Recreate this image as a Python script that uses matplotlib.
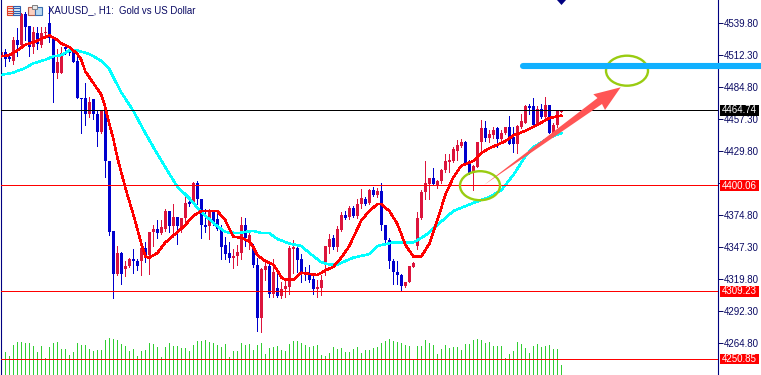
import matplotlib
matplotlib.use('Agg')
import matplotlib.pyplot as plt
from matplotlib.patches import Ellipse, Polygon, Rectangle

# candles, one entry per hourly bar
highs = [4517, 4517, 4511, 4528, 4535, 4548, 4549, 4537, 4536, 4536, 4536, 4536, 4553, 4527, 4517, 4519, 4520, 4519, 4517, 4515,
         4475, 4488, 4476, 4474, 4465, 4465, 4466, 4421, 4361, 4348, 4343, 4335, 4338, 4345, 4337, 4349, 4351, 4360, 4366, 4370,
         4370, 4380, 4378, 4384, 4373, 4372, 4392, 4390, 4403, 4404, 4388, 4380, 4380, 4378, 4376, 4366, 4356, 4351, 4345, 4349,
         4373, 4372, 4360, 4350, 4338, 4329, 4337, 4335, 4337, 4325, 4317, 4319, 4348, 4353, 4349, 4341, 4330, 4332, 4325, 4319,
         4323, 4348, 4358, 4357, 4365, 4377, 4378, 4382, 4382, 4388, 4397, 4390, 4397, 4399, 4398, 4402, 4366, 4355, 4337, 4335,
         4324, 4317, 4331, 4334, 4377, 4396, 4421, 4406, 4415, 4405, 4414, 4427, 4427, 4433, 4439, 4440, 4438, 4422, 4418, 4437,
         4456, 4455, 4448, 4450, 4450, 4448, 4450, 4460, 4450, 4452, 4461, 4469, 4470, 4475, 4468, 4470, 4476, 4469, 4454, 4464, 4465]
body_tops = [4515, 4515, 4510, 4525, 4525, 4547, 4547, 4537, 4532, 4531, 4531, 4532, 4540, 4527, 4506, 4514, 4519, 4517, 4517, 4507,
             4475, 4475, 4472, 4474, 4461, 4464, 4465, 4421, 4361, 4342, 4342, 4331, 4337, 4337, 4335, 4346, 4346, 4360, 4363, 4363,
             4364, 4378, 4378, 4373, 4373, 4372, 4385, 4386, 4402, 4402, 4388, 4366, 4377, 4377, 4371, 4363, 4349, 4342, 4339, 4343,
             4366, 4366, 4357, 4348, 4332, 4328, 4331, 4331, 4326, 4312, 4311, 4314, 4346, 4347, 4346, 4337, 4325, 4323, 4320, 4313,
             4319, 4348, 4354, 4355, 4363, 4375, 4375, 4381, 4381, 4384, 4389, 4388, 4396, 4396, 4395, 4395, 4366, 4353, 4335, 4326,
             4323, 4317, 4331, 4333, 4372, 4394, 4402, 4406, 4406, 4404, 4413, 4421, 4422, 4431, 4435, 4437, 4437, 4419, 4417, 4437,
             4449, 4449, 4444, 4448, 4449, 4445, 4450, 4450, 4442, 4451, 4455, 4468, 4468, 4468, 4466, 4466, 4469, 4469, 4452, 4464, 4465]
body_bots = [4511, 4509, 4509, 4507, 4521, 4521, 4536, 4519, 4519, 4522, 4521, 4531, 4527, 4497, 4497, 4497, 4517, 4514, 4506, 4475,
             4474, 4461, 4461, 4461, 4446, 4446, 4421, 4360, 4324, 4324, 4324, 4328, 4331, 4335, 4331, 4335, 4340, 4340, 4360, 4359,
             4359, 4363, 4365, 4365, 4365, 4362, 4372, 4384, 4384, 4388, 4366, 4364, 4365, 4369, 4363, 4347, 4341, 4338, 4338, 4339,
             4342, 4355, 4352, 4332, 4286, 4286, 4327, 4307, 4307, 4305, 4305, 4311, 4313, 4345, 4336, 4325, 4323, 4319, 4311, 4311,
             4312, 4332, 4347, 4347, 4347, 4362, 4372, 4373, 4374, 4374, 4384, 4384, 4385, 4392, 4392, 4366, 4353, 4335, 4326, 4323,
             4314, 4314, 4317, 4330, 4348, 4372, 4394, 4401, 4401, 4400, 4404, 4413, 4420, 4421, 4430, 4434, 4419, 4411, 4411, 4416,
             4437, 4441, 4441, 4443, 4440, 4440, 4445, 4436, 4436, 4436, 4450, 4454, 4467, 4452, 4452, 4459, 4459, 4445, 4445, 4452, 4463]
lows = [4510, 4503, 4507, 4504, 4511, 4520, 4525, 4511, 4514, 4517, 4519, 4527, 4523, 4472, 4492, 4497, 4513, 4512, 4506, 4475,
        4445, 4452, 4459, 4457, 4434, 4445, 4407, 4357, 4303, 4323, 4315, 4322, 4330, 4325, 4327, 4323, 4334, 4324, 4348, 4355,
        4358, 4361, 4360, 4356, 4350, 4360, 4366, 4382, 4384, 4384, 4355, 4360, 4354, 4366, 4362, 4337, 4337, 4334, 4329, 4332,
        4337, 4348, 4345, 4330, 4275, 4274, 4319, 4304, 4304, 4304, 4303, 4304, 4307, 4325, 4326, 4317, 4319, 4317, 4307, 4304,
        4306, 4323, 4342, 4345, 4344, 4361, 4371, 4371, 4373, 4372, 4381, 4383, 4384, 4391, 4390, 4362, 4349, 4329, 4315, 4315,
        4310, 4313, 4317, 4330, 4345, 4371, 4388, 4388, 4400, 4398, 4402, 4412, 4412, 4420, 4422, 4433, 4418, 4410, 4396, 4416,
        4428, 4438, 4437, 4441, 4433, 4438, 4444, 4436, 4429, 4428, 4449, 4454, 4461, 4451, 4452, 4458, 4457, 4445, 4444, 4450, 4463]
# r = bull bar, b = bear bar
directions = ('rbbrbrbbrbrrbbrrbbbbbbrbbrbbbr'
              'brrbbrbrrbrrbrbrrbrbbbrbbbbbrr'
              'rbrbbrrbrbrrrrbbbbbrrrrbrrbrbr'
              'rbrbrbbbbbbrrrrrrrbrrrrrrrbbrr'
              'rbrrbrrbbrrrbbrbrbrrr')
volumes = [20, 23, 19, 30, 33, 33, 32, 32, 29, 23, 29, 17, 28, 32, 33, 26, 26, 20, 23, 32,
           30, 30, 26, 24, 25, 25, 35, 37, 36, 35, 31, 29, 24, 26, 19, 24, 25, 32, 31, 28,
           18, 28, 32, 29, 29, 27, 27, 24, 30, 34, 34, 35, 33, 32, 30, 28, 31, 18, 24, 24,
           32, 30, 31, 25, 30, 32, 21, 27, 28, 29, 25, 24, 31, 34, 34, 32, 30, 28, 29, 30,
           20, 19, 22, 28, 26, 27, 23, 23, 26, 28, 22, 25, 25, 27, 28, 32, 34, 36, 34, 33,
           32, 30, 29, 16, 29, 29, 35, 32, 30, 21, 26, 30, 27, 28, 28, 25, 31, 31, 35, 36,
           35, 32, 33, 29, 29, 29, 17, 21, 24, 33, 31, 27, 22, 29, 31, 28, 29, 30, 26, 26, 10]

fast_bars = [0, 2, 4, 6, 8, 10, 12, 14, 15, 17, 19, 20, 21, 23, 25, 26, 27, 28, 29, 30, 31, 33, 35, 36, 37, 39, 41, 44, 46, 48,
             50, 54, 56, 58, 60, 62, 63, 64, 66, 68, 69, 70, 71, 73, 75, 77, 79, 80, 81, 83, 85, 87, 90, 92, 94, 95, 97, 99, 101, 103,
             105, 107, 109, 111, 113, 115, 118, 120, 122, 124, 126, 128, 131, 134, 137, 140]
fast_ma = [4511, 4512, 4516, 4521, 4523, 4526, 4529, 4525, 4522, 4519, 4513, 4508, 4498, 4488, 4478, 4467, 4453, 4440, 4424, 4411, 4398, 4375, 4350, 4339, 4338, 4342, 4351, 4360, 4366, 4374,
           4378, 4378, 4370, 4356, 4355, 4352, 4347, 4340, 4335, 4332, 4327, 4321, 4319, 4319, 4325, 4324, 4323, 4325, 4327, 4330, 4338, 4348, 4370, 4378, 4384, 4384, 4378, 4367, 4349, 4339,
           4339, 4350, 4370, 4392, 4407, 4417, 4421, 4428, 4432, 4435, 4438, 4443, 4447, 4452, 4458, 4460]
slow_bars = [0, 3, 6, 8, 11, 13, 15, 17, 19, 22, 25, 27, 28, 30, 33, 36, 39, 42, 44, 47, 50, 54, 56, 59, 61, 63, 65, 67, 69, 72,
             75, 77, 80, 82, 84, 88, 92, 94, 98, 103, 106, 109, 113, 118, 122, 125, 128, 131, 133, 137, 140]
slow_ma = [4495, 4497, 4501, 4505, 4508, 4511, 4512, 4516, 4516, 4513, 4507, 4500, 4493, 4480, 4464, 4445, 4427, 4410, 4399, 4389, 4377, 4365, 4360, 4359, 4360, 4361, 4359, 4359, 4354, 4350,
           4348, 4342, 4334, 4332, 4332, 4338, 4341, 4348, 4351, 4351, 4357, 4366, 4378, 4385, 4390, 4396, 4409, 4425, 4433, 4441, 4445]

price_ticks = [4539.8, 4512.3, 4484.8, 4457.3, 4429.8, 4402.3, 4374.8, 4347.3, 4319.8, 4292.3, 4264.8]
level_prices = [4464.74, 4400.06, 4309.23, 4250.85]
level_colors = ['black', 'red', 'red', 'red']
title_text = 'XAUUSD_, H1:  Gold vs US Dollar'

NAVY = '#0a0a64'
plt.rcParams['font.family'] = ['Liberation Sans', 'DejaVu Sans']

fig = plt.figure(figsize=(7.61, 3.75), dpi=100)
ax = fig.add_axes([1.5 / 761, 0, 716 / 761, 1])
ax.set_xlim(0.04, 179.04)
ax.set_ylim(4237.1, 4559.4)

# volume sits behind the price axes, height counted in pixels
vol_ax = ax.twinx()
vol_ax.set_ylim(0, 375)
vol_ax.axis('off')
vol_ax.vlines(range(len(volumes)), 0, volumes, color='#32cd32', lw=0.72, antialiased=False)
ax.set_zorder(vol_ax.get_zorder() + 1)
ax.patch.set_visible(False)

bars = range(len(highs))
colors = ['#dc143c' if d == 'r' else '#0000cd' for d in directions]
ax.vlines(bars, lows, highs, colors=colors, lw=0.72, antialiased=False, zorder=2)
ax.bar(bars, [t - b for t, b in zip(body_tops, body_bots)], bottom=body_bots,
       width=0.72, color=colors, linewidth=0, zorder=2)

ax.plot(slow_bars, slow_ma, color='#00ffff', lw=1.1, antialiased=False, zorder=3)
ax.plot(fast_bars, fast_ma, color='#ff0000', lw=1.1, antialiased=False, zorder=4)

for price, col in zip(level_prices, level_colors):
    ax.axhline(price, color=col, lw=0.72, antialiased=False, zorder=3)
    ax.add_patch(Rectangle((1.0035, price - 4.7), 0.0545, 9.4, transform=ax.get_yaxis_transform(),
                           facecolor=col, edgecolor='none', clip_on=False, zorder=6))
    ax.text(1.0307, price - 0.2, f'{price:.2f}', transform=ax.get_yaxis_transform(), color='white',
            fontsize=7, ha='center', va='center', clip_on=False, zorder=7)

for side in ['top', 'bottom']:
    ax.spines[side].set_visible(False)
for side in ['left', 'right']:
    ax.spines[side].set_color('#000080')
    ax.spines[side].set_linewidth(0.8)
ax.set_xticks([])
ax.yaxis.tick_right()
ax.set_yticks(price_ticks)
# 4402.30 is hidden behind the red price box in the original
ax.set_yticklabels(['' if t == 4402.3 else f'{t:.2f}' for t in price_ticks])
ax.tick_params(axis='y', length=3.6, width=0.72, color=NAVY, labelcolor=NAVY, labelsize=7, pad=0.6)

# hand-drawn marks on top of the screenshot, in pixels
over = fig.add_axes([0, 0, 1, 1], zorder=10)
over.set_xlim(0, 761)
over.set_ylim(375, 0)
over.axis('off')
over.plot([523, 761], [66, 66], color='#10b0ff', lw=4.4, solid_capstyle='round')
over.add_patch(Polygon([(484, 185), (597.5, 98), (593.3, 94.3), (620.7, 87.3), (605, 110), (602, 104)],
                       facecolor='#ff5555', edgecolor='none'))
over.add_patch(Ellipse((627, 70.7), 42, 30, facecolor='none', edgecolor='#99cc11', lw=1.7))
over.add_patch(Ellipse((480, 185.7), 40, 29, facecolor='none', edgecolor='#99cc11', lw=1.7))
over.add_patch(Polygon([(557, 0), (566, 0), (561.5, 5)], facecolor='#000080', edgecolor='none'))
over.text(48, 10.5, title_text, color=NAVY, fontsize=6.9, ha='left', va='center')

# the two toolbar icons
over.add_patch(Rectangle((6.5, 5.5), 6.5, 9.5, facecolor='#fde4dc', edgecolor='#e0402a', lw=0.8))
over.add_patch(Rectangle((13, 5.5), 6.5, 9.5, facecolor='#dcebfa', edgecolor='#2a5fb0', lw=0.8))
for y in [8, 10.5, 13]:
    over.plot([7.5, 12.5], [y, y], color='#e0402a', lw=0.8)
    over.plot([14, 19], [y, y], color='#2a5fb0', lw=0.8)
over.add_patch(Rectangle((28, 7), 7, 8, facecolor='#fcd0c0', edgecolor='#b06050', lw=0.8))
over.add_patch(Rectangle((35, 7), 7, 8, facecolor='#b8d8f0', edgecolor='#3a70b0', lw=0.8))
over.add_patch(Rectangle((32, 5), 5, 4, facecolor='#e8e8e8', edgecolor='#808080', lw=0.7))

fig.savefig('out.png', dpi=100)
